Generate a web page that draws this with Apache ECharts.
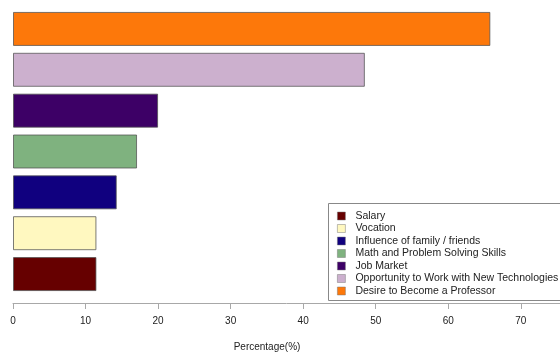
<!DOCTYPE html>
<html>
<head>
<meta charset="utf-8">
<script src="https://cdn.jsdelivr.net/npm/echarts@6/dist/echarts.min.js"></script>
<style>
  html, body { margin: 0; padding: 0; background: #fff; }
  #chart { width: 560px; height: 356px; }
</style>
</head>
<body>
<div id="chart"></div>
<script>
// categories, bottom to top
var categories = [
    'Salary',
    'Vocation',
    'Influence of family / friends',
    'Math and Problem Solving Skills',
    'Job Market',
    'Opportunity to Work with New Technologies',
    'Desire to Become a Professor'
];
// percentage for each reason
var values = [11.5, 11.5, 14.3, 17.1, 20.0, 48.5, 65.8];
var colors = ['#660000', '#fff8c0', '#10007f', '#7fb27f', '#3d0066', '#ccb0ce', '#fd780a'];
var tickValues = [0, 10, 20, 30, 40, 50, 60, 70];

var myChart = echarts.init(document.getElementById('chart'));

// one series per category, so the legend gets one entry per bar
var series = [];
categories.forEach(function (name, i) {
    var data = values.map(function (v, j) { return j === i ? v : '-'; });
    series.push({
        name: name,
        type: 'bar',
        stack: 'all',
        barWidth: 34,
        data: data,
        itemStyle: {
            color: colors[i],
            borderColor: 'rgba(80,80,80,0.75)',
            borderWidth: 1
        }
    });
});

var option = {
    animation: false,
    backgroundColor: '#fff',
    textStyle: { fontFamily: 'Liberation Sans, Arial, sans-serif' },
    grid: { left: 13, right: 0, top: 8.5, bottom: 61.5 },
    xAxis: {
        type: 'value',
        min: 0,
        max: 75.4,
        interval: 10,
        offset: 8.5,
        splitLine: { show: false },
        axisLine: { show: true, lineStyle: { color: '#a8a8a8', width: 1 } },
        axisTick: { show: true, length: 6, customValues: tickValues, lineStyle: { color: '#a8a8a8' } },
        axisLabel: {
            customValues: tickValues,
            color: '#222',
            fontSize: 10,
            margin: 13
        }
    },
    yAxis: {
        type: 'category',
        data: categories,
        show: false
    },
    legend: {
        orient: 'vertical',
        left: 337,
        top: 210.5,
        itemWidth: 8,
        itemHeight: 8,
        itemGap: 1.5,
        padding: 0,
        icon: 'rect',
        data: categories,
        itemStyle: { borderColor: 'rgba(120,120,120,0.6)', borderWidth: 0.8 },
        textStyle: { fontSize: 10.5, lineHeight: 10, color: '#222', padding: [0, 0, 0, 5] }
    },
    graphic: [
        {
            type: 'rect',
            shape: { x: 328.5, y: 203.5, width: 240, height: 97 },
            style: { fill: 'none', stroke: '#888', lineWidth: 1 },
            z: 1
        },
        {
            type: 'text',
            x: 267,
            y: 347,
            style: {
                text: 'Percentage(%)',
                fontSize: 10,
                fill: '#222',
                fontFamily: 'Liberation Sans, Arial, sans-serif',
                textAlign: 'center',
                textVerticalAlign: 'middle'
            }
        }
    ],
    series: series
};

myChart.setOption(option);
</script>
</body>
</html>
